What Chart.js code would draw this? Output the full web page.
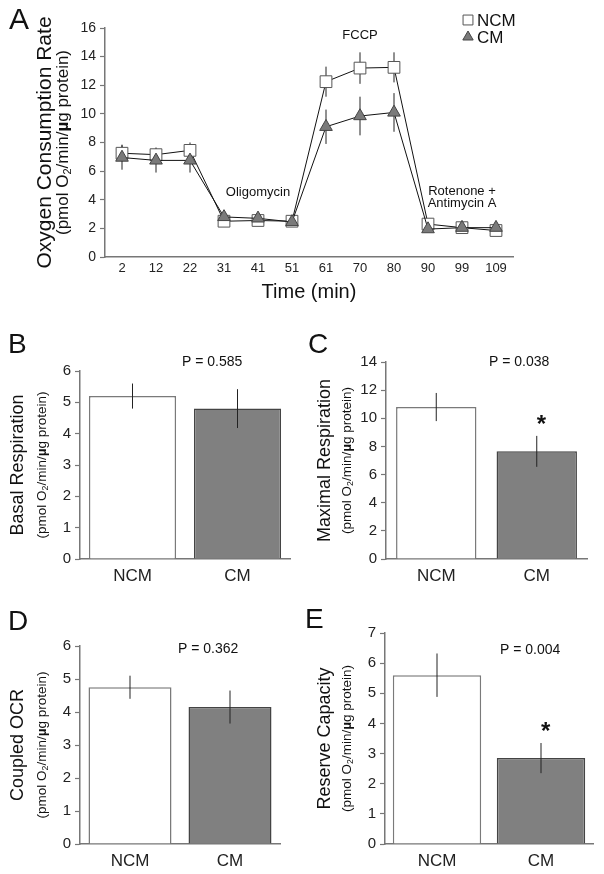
<!DOCTYPE html>
<html>
<head>
<meta charset="utf-8">
<script src="https://cdn.jsdelivr.net/npm/chart.js@4.4.1/dist/chart.umd.min.js"></script>
<style>
  body { margin: 0; background: #fff; width: 604px; height: 874px; position: relative; overflow: hidden; }
  canvas { position: absolute; }
</style>
</head>
<body>
<canvas id="chartA" width="604" height="305" style="left:0;top:0"></canvas>
<canvas id="chartB" width="300" height="285" style="left:0;top:305px"></canvas>
<canvas id="chartC" width="304" height="285" style="left:300px;top:305px"></canvas>
<canvas id="chartD" width="300" height="284" style="left:0;top:590px"></canvas>
<canvas id="chartE" width="304" height="284" style="left:300px;top:590px"></canvas>
<script>
// time course (panel A)
const timeLabels = ["2", "12", "22", "31", "41", "51", "61", "70", "80", "90", "99", "109"];
const ncmOcr = [7.25, 7.15, 7.45, 2.5, 2.55, 2.5, 12.25, 13.2, 13.25, 2.3, 2.05, 1.85];
const ncmOcrErr = [0.6, 0.5, 0.55, 0.25, 0.25, 0.2, 1.05, 1.1, 1.05, 0.2, 0.15, 0.15];
const cmOcr = [6.95, 6.75, 6.75, 2.8, 2.7, 2.45, 9.1, 9.85, 10.1, 1.95, 2.05, 2.05];
const cmOcrErr = [0.85, 0.85, 0.85, 0.3, 0.35, 0.2, 1.2, 1.35, 1.35, 0.2, 0.2, 0.2];

// summary bars (panels B-E)
const groups = ["NCM", "CM"];
const basal = [5.2, 4.8];
const basalErr = [0.4, 0.62];
const maximal = [10.8, 7.65];
const maximalErr = [1.0, 1.1];
const coupled = [4.75, 4.15];
const coupledErr = [0.35, 0.5];
const reserve = [5.6, 2.85];
const reserveErr = [0.72, 0.5];
const pValues = ["P = 0.585", "P = 0.038", "P = 0.362", "P = 0.004"];
const significant = [[false, false], [false, true], [false, false], [false, true]];

const FAMILY = '"Liberation Sans", Arial, sans-serif';
function font(size, weight) {
    return (weight || "normal") + " " + size + "px " + FAMILY;
}

// "(pmol O2/min/µg protein)" rotated, with subscript and bold µ
function drawUnit(ctx, cx, cy, size) {
    const parts = [
        { t: "(pmol O", f: font(size), dy: 0 },
        { t: "2", f: font(size * 0.65), dy: size * 0.3 },
        { t: "/min/", f: font(size), dy: 0 },
        { t: "\u00b5", f: font(size, "bold"), dy: 0 },
        { t: "g protein)", f: font(size), dy: 0 },
    ];
    let total = 0;
    parts.forEach(p => { ctx.font = p.f; p.w = ctx.measureText(p.t).width; total += p.w; });
    ctx.save();
    ctx.translate(cx, cy);
    ctx.rotate(-Math.PI / 2);
    ctx.textAlign = "left";
    ctx.textBaseline = "middle";
    let x = -total / 2;
    parts.forEach(p => { ctx.font = p.f; ctx.fillText(p.t, x, p.dy); x += p.w; });
    ctx.restore();
}

function drawErrors(chart) {
    const ctx = chart.ctx;
    const y = chart.scales.y;
    chart.data.datasets.forEach((ds, i) => {
        if (!ds.errors) return;
        chart.getDatasetMeta(i).data.forEach((el, j) => {
            const v = ds.data[j], e = ds.errors[j];
            ctx.save();
            ctx.strokeStyle = "#222";
            ctx.lineWidth = 1;
            ctx.beginPath();
            ctx.moveTo(el.x, y.getPixelForValue(v - e));
            ctx.lineTo(el.x, y.getPixelForValue(v + e));
            ctx.stroke();
            ctx.restore();
        });
    });
}

const errorBars = {
    id: "errorBars",
    beforeDatasetsDraw(chart, args, opts) { if (opts.behind) drawErrors(chart); },
    afterDatasetsDraw(chart, args, opts) { if (!opts.behind) drawErrors(chart); },
};

const panelText = {
    id: "panelText",
    afterDraw(chart, args, o) {
        const ctx = chart.ctx, area = chart.chartArea;
        const cy = (area.top + area.bottom) / 2;
        ctx.save();
        ctx.fillStyle = "#111";
        ctx.font = font(o.letterSize);
        ctx.textAlign = "left";
        ctx.textBaseline = "middle";
        ctx.fillText(o.letter, o.letterX, o.letterY);

        ctx.save();
        ctx.translate(o.titleX, cy);
        ctx.rotate(-Math.PI / 2);
        ctx.textAlign = "center";
        ctx.font = font(o.titleSize);
        ctx.fillText(o.title, 0, 0);
        ctx.restore();
        drawUnit(ctx, o.unitX, cy, o.unitSize);

        if (o.xTitle) {
            ctx.textAlign = "center";
            ctx.font = font(o.xTitleSize);
            ctx.fillText(o.xTitle, (area.left + area.right) / 2, area.bottom + o.xTitleOffset);
        }
        const xs = chart.scales.x, ys = chart.scales.y;
        (o.notes || []).forEach(n => {
            ctx.font = font(n.size);
            ctx.textAlign = "center";
            ctx.fillText(n.text, xs.getPixelForValue(n.index), ys.getPixelForValue(n.value));
        });
        if (o.pText) {
            ctx.font = font(o.pSize);
            ctx.fillText(o.pText, o.pX, o.pY);
        }
        if (o.stars) {
            const ds = chart.data.datasets[0];
            chart.getDatasetMeta(0).data.forEach((el, j) => {
                if (!o.stars[j]) return;
                const top = ys.getPixelForValue(ds.data[j] + ds.errors[j]);
                ctx.font = font(24, "bold");
                ctx.textBaseline = "alphabetic";
                ctx.fillText("*", el.x, top - 4);
            });
        }
        if (o.legend) {
            chart.data.datasets.forEach((ds, k) => {
                const px = o.legend.x, py = o.legend.y + k * o.legend.gap;
                ctx.fillStyle = ds.pointBackgroundColor;
                ctx.strokeStyle = ds.pointBorderColor;
                ctx.lineWidth = 1;
                Chart.helpers.drawPoint(ctx, {
                    pointStyle: ds.pointStyle,
                    radius: ds.pointStyle === "rect" ? 7 : 6,
                    rotation: 0,
                    borderWidth: 1,
                }, px, py);
                ctx.fillStyle = "#111";
                ctx.font = font(17);
                ctx.textAlign = "left";
                ctx.textBaseline = "middle";
                ctx.fillText(ds.label, px + 9, py + 1);
            });
        }
        ctx.restore();
    },
};

function axisGrid(tickLen) {
    return {
        display: true,
        drawOnChartArea: false,
        drawTicks: tickLen > 0,
        tickLength: tickLen,
        tickColor: "#777",
        tickWidth: 1.2,
    };
}

// Panel A: time course
new Chart(document.getElementById("chartA"), {
    type: "line",
    data: {
        labels: timeLabels,
        datasets: [
            {
                label: "NCM",
                data: ncmOcr,
                errors: ncmOcrErr,
                order: 1,
                borderColor: "#111",
                borderWidth: 1,
                pointStyle: "rect",
                pointRadius: 8.3,
                pointBackgroundColor: "#fff",
                pointBorderColor: "#555",
                pointBorderWidth: 1,
                tension: 0,
            },
            {
                label: "CM",
                data: cmOcr,
                errors: cmOcrErr,
                order: 0,
                borderColor: "#111",
                borderWidth: 1,
                pointStyle: "triangle",
                pointRadius: 7.3,
                pointBackgroundColor: "#7a7a7a",
                pointBorderColor: "#444",
                pointBorderWidth: 1,
                tension: 0,
            },
        ],
    },
    options: {
        responsive: false,
        animation: false,
        layout: { padding: { left: 75, top: 28, right: 91, bottom: 0 } },
        scales: {
            x: {
                offset: true,
                grid: axisGrid(0),
                border: { display: true, color: "#777", width: 1.5 },
                ticks: { font: { size: 13, family: FAMILY }, color: "#222", padding: 4, maxRotation: 0 },
                afterFit(s) { s.height = 48; },
            },
            y: {
                min: 0,
                max: 16,
                grid: axisGrid(5),
                border: { display: true, color: "#777", width: 1.5 },
                ticks: { stepSize: 2, font: { size: 14, family: FAMILY }, color: "#222", padding: 4 },
                afterFit(s) { s.width = 30; },
            },
        },
        plugins: {
            legend: { display: false },
            tooltip: { enabled: false },
            errorBars: { behind: true },
            panelText: {
                letter: "A", letterSize: 30, letterX: 9, letterY: 21,
                title: "Oxygen Consumption Rate", titleX: 45, titleSize: 21,
                unitX: 63, unitSize: 17,
                xTitle: "Time (min)", xTitleSize: 20, xTitleOffset: 35,
                notes: [
                    { text: "FCCP", index: 7, value: 15.5, size: 13 },
                    { text: "Oligomycin", index: 4, value: 4.5, size: 13 },
                    { text: "Rotenone +", index: 10, value: 4.6, size: 13 },
                    { text: "Antimycin A", index: 10, value: 3.75, size: 13 },
                ],
                legend: { x: 468, y: 20, gap: 17 },
            },
        },
    },
    plugins: [errorBars, panelText],
});

// Panels B-E: summary bars
function renderBarPanel(id, values, errors, cfg) {
    new Chart(document.getElementById(id), {
        type: "bar",
        data: {
            labels: groups,
            datasets: [
                {
                    data: values,
                    errors: errors,
                    backgroundColor: ["#ffffff", "#808080"],
                    borderColor: ["#7a7a7a", "#444"],
                    borderWidth: 1.5,
                    borderSkipped: "bottom",
                    categoryPercentage: 1,
                    barPercentage: cfg.barPct,
                },
            ],
        },
        options: {
            responsive: false,
            animation: false,
            layout: { padding: cfg.padding },
            scales: {
                x: {
                    grid: axisGrid(0),
                    border: { display: true, color: "#777", width: 1.5 },
                    ticks: { font: { size: 17, family: FAMILY }, color: "#222", padding: 7 },
                    afterFit(s) { s.height = cfg.xHeight; },
                },
                y: {
                    min: 0,
                    max: cfg.max,
                    grid: axisGrid(5),
                    border: { display: true, color: "#777", width: 1.5 },
                    ticks: { stepSize: cfg.step, font: { size: 15, family: FAMILY }, color: "#222", padding: 4 },
                    afterFit(s) { s.width = 26; },
                },
            },
            plugins: {
                legend: { display: false },
                tooltip: { enabled: false },
                errorBars: { behind: false },
                panelText: {
                    letter: cfg.letter, letterSize: 28, letterX: cfg.letterX, letterY: cfg.letterY,
                    title: cfg.title, titleX: cfg.titleX, titleSize: 18,
                    unitX: cfg.unitX, unitSize: 13.5,
                    pText: cfg.p, pSize: 14, pX: cfg.pX, pY: cfg.pY,
                    stars: cfg.stars,
                },
            },
        },
        plugins: [errorBars, panelText],
    });
}

renderBarPanel("chartB", basal, basalErr, {
    letter: "B", letterX: 8, letterY: 40, title: "Basal Respiration", titleX: 18, unitX: 42,
    max: 6, step: 1, barPct: 0.83, xHeight: 31,
    padding: { left: 54, top: 66, right: 10, bottom: 0 },
    p: pValues[0], pX: 182, pY: 57, stars: significant[0],
});
renderBarPanel("chartC", maximal, maximalErr, {
    letter: "C", letterX: 8, letterY: 40, title: "Maximal Respiration", titleX: 25, unitX: 47,
    max: 14, step: 2, barPct: 0.8, xHeight: 31,
    padding: { left: 60, top: 57, right: 17, bottom: 0 },
    p: pValues[1], pX: 189, pY: 57, stars: significant[1],
});
renderBarPanel("chartD", coupled, coupledErr, {
    letter: "D", letterX: 8, letterY: 32, title: "Coupled OCR", titleX: 18, unitX: 42,
    max: 6, step: 1, barPct: 0.83, xHeight: 30,
    padding: { left: 54, top: 56, right: 20, bottom: 0 },
    p: pValues[2], pX: 178, pY: 59, stars: significant[2],
});
renderBarPanel("chartE", reserve, reserveErr, {
    letter: "E", letterX: 5, letterY: 30, title: "Reserve Capacity", titleX: 25, unitX: 47,
    max: 7, step: 1, barPct: 0.85, xHeight: 30,
    padding: { left: 59, top: 43, right: 11, bottom: 0 },
    p: pValues[3], pX: 200, pY: 60, stars: significant[3],
});
</script>
</body>
</html>
